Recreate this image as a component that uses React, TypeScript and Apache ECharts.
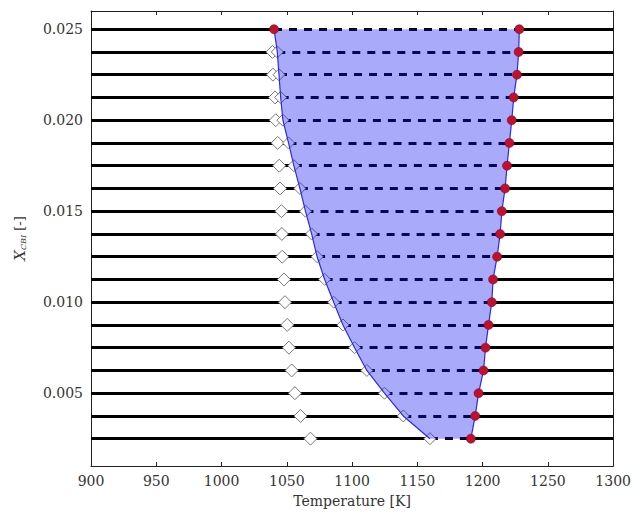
import React, { useEffect, useRef } from "react";
import * as echarts from "echarts";

const xTicks = [900, 950, 1000, 1050, 1100, 1150, 1200, 1250, 1300];
const yTicks = [0.005, 0.01, 0.015, 0.02, 0.025];

const yLevels = [
  0.0025, 0.00375, 0.005, 0.00625, 0.0075, 0.00875, 0.01, 0.01125, 0.0125,
  0.01375, 0.015, 0.01625, 0.0175, 0.01875, 0.02, 0.02125, 0.0225, 0.02375,
  0.025,
];

// white diamonds (left column), for yLevels[0..17]
const dewT = [
  1068.1, 1060.5, 1056.2, 1053.7, 1051.6, 1050.3, 1048.6, 1047.8, 1046.5,
  1046.2, 1045.9, 1044.8, 1044.2, 1043.0, 1041.5, 1041.0, 1039.4, 1039.0,
];

// left boundary of shaded region (markers on blue curve)
const curveT = [
  1159.6, 1139.2, 1124.8, 1111.3, 1101.9, 1093.0, 1085.9, 1079.0, 1073.2,
  1069.0, 1064.3, 1060.0, 1055.4, 1051.3, 1047.0, 1045.3, 1044.0, 1042.7,
  1040.2,
];

// right boundary (red circles)
const redT = [
  1191.0, 1194.3, 1196.9, 1200.7, 1202.2, 1204.5, 1207.0, 1208.0, 1211.1,
  1213.4, 1214.7, 1217.2, 1218.7, 1220.5, 1222.3, 1223.8, 1226.3, 1227.6,
  1228.1,
];

const X_MIN = xTicks[0];
const X_MAX = xTicks[xTicks.length - 1];

export default function App() {
  const ref = useRef<HTMLDivElement>(null);

  useEffect(() => {
    if (!ref.current) return;
    const chart = echarts.init(ref.current, null, { renderer: "svg" });
    const font = "DejaVu Serif";
    const n = yLevels.length;

    const leftSolid = yLevels.map((y, i) => ({ coords: [[X_MIN, y], [curveT[i], y]] }));
    const dashed = yLevels.map((y, i) => ({ coords: [[curveT[i], y], [redT[i], y]] }));
    const rightSolid = yLevels.map((y, i) => ({ coords: [[redT[i], y], [X_MAX, y]] }));

    const dewPts = dewT.map((t, i) => [t, yLevels[i]]);
    const curvePts = curveT.slice(0, n - 1).map((t, i) => [t, yLevels[i]]);
    const redPts = redT.map((t, i) => [t, yLevels[i]]);
    redPts.push([curveT[n - 1], yLevels[n - 1]]);

    const leftLine = curveT.map((t, i) => [t, yLevels[i]]);
    const rightLine = redT.map((t, i) => [t, yLevels[i]]);
    const polygon = [...leftLine, ...rightLine.slice().reverse()];

    const axisCommon = {
      axisLine: { show: true, lineStyle: { color: "#222", width: 1 } },
      splitLine: { show: false },
    };

    chart.setOption({
      animation: false,
      backgroundColor: "#fff",
      grid: { left: 91, right: 18, top: 11, bottom: 47, containLabel: false },
      xAxis: [
        {
          type: "value",
          min: X_MIN,
          max: X_MAX,
          interval: 50,
          position: "bottom",
          ...axisCommon,
          axisTick: { show: true, inside: true, length: 4, lineStyle: { color: "#222" } },
          axisLabel: {
            color: "#333",
            fontFamily: font,
            fontSize: 14,
            margin: 8,
            formatter: (v: number) => String(v),
          },
          name: "Temperature [K]",
          nameLocation: "middle",
          nameGap: 28,
          nameTextStyle: { color: "#333", fontFamily: font, fontSize: 14 },
        },
        {
          type: "value",
          min: X_MIN,
          max: X_MAX,
          interval: 50,
          position: "top",
          ...axisCommon,
          axisTick: { show: true, inside: true, length: 4, lineStyle: { color: "#222" } },
          axisLabel: { show: false },
        },
      ],
      yAxis: [
        {
          type: "value",
          min: 0.001,
          max: 0.026,
          position: "left",
          ...axisCommon,
          axisTick: {
            show: true,
            inside: true,
            length: 4,
            customValues: yTicks,
            lineStyle: { color: "#222" },
          },
          axisLabel: {
            color: "#333",
            fontFamily: font,
            fontSize: 14,
            margin: 8,
            customValues: yTicks,
            formatter: (v: number) => v.toFixed(3),
          },
          name: "{i|X}{s|CBI} [-]",
          nameLocation: "middle",
          nameGap: 64,
          nameTextStyle: {
            color: "#333",
            fontFamily: font,
            fontSize: 13,
            rich: {
              i: { fontFamily: font, fontStyle: "italic", fontSize: 15, color: "#333" },
              s: { fontFamily: font, fontStyle: "italic", fontSize: 8, color: "#333", padding: [7, 0, 0, 0] },
            },
          },
        },
        {
          type: "value",
          min: 0.001,
          max: 0.026,
          position: "right",
          ...axisCommon,
          axisTick: { show: true, inside: true, length: 4, customValues: yTicks, lineStyle: { color: "#222" } },
          axisLabel: { show: false },
        },
      ],
      series: [
        {
          type: "lines",
          coordinateSystem: "cartesian2d",
          polyline: false,
          silent: true,
          z: 2,
          lineStyle: { color: "#000", width: 3, opacity: 1 },
          data: leftSolid,
        },
        {
          type: "lines",
          coordinateSystem: "cartesian2d",
          polyline: false,
          silent: true,
          z: 2,
          lineStyle: { color: "#000", width: 3, type: [8, 7], opacity: 1 },
          data: dashed,
        },
        {
          type: "lines",
          coordinateSystem: "cartesian2d",
          polyline: false,
          silent: true,
          z: 2,
          lineStyle: { color: "#000", width: 3, opacity: 1 },
          data: rightSolid,
        },
        {
          type: "scatter",
          symbol: "diamond",
          symbolSize: 13,
          z: 3,
          itemStyle: { color: "#fff", borderColor: "#777", borderWidth: 1, opacity: 1 },
          data: dewPts,
        },
        {
          type: "scatter",
          symbol: "diamond",
          symbolSize: 12,
          z: 3,
          itemStyle: { color: "#fff", borderColor: "#777", borderWidth: 1, opacity: 1 },
          data: curvePts,
        },
        {
          type: "custom",
          z: 4,
          silent: true,
          data: [[polygon[0][0], polygon[0][1]]],
          encode: { x: 0, y: 1 },
          renderItem: (_params: any, api: any) => {
            const pts = polygon.map((p) => api.coord(p));
            return {
              type: "polygon",
              shape: { points: pts },
              style: { fill: "rgba(20,20,245,0.36)", stroke: "none" },
            };
          },
        },
        {
          type: "line",
          z: 5,
          silent: true,
          symbol: "none",
          lineStyle: { color: "#2a2ae6", width: 1.2 },
          data: leftLine,
        },
        {
          type: "line",
          z: 5,
          silent: true,
          symbol: "none",
          lineStyle: { color: "#2a2ae6", width: 1.2 },
          data: rightLine,
        },
        {
          type: "scatter",
          symbol: "circle",
          symbolSize: 9,
          z: 6,
          itemStyle: { color: "#c0102e", borderColor: "#7a0a20", borderWidth: 0.6, opacity: 1 },
          data: redPts,
        },
      ],
    });

    return () => chart.dispose();
  }, []);

  return (
    <div
      ref={ref}
      style={{ position: "fixed", left: 0, top: 0, width: 634, height: 513 }}
    />
  );
}
